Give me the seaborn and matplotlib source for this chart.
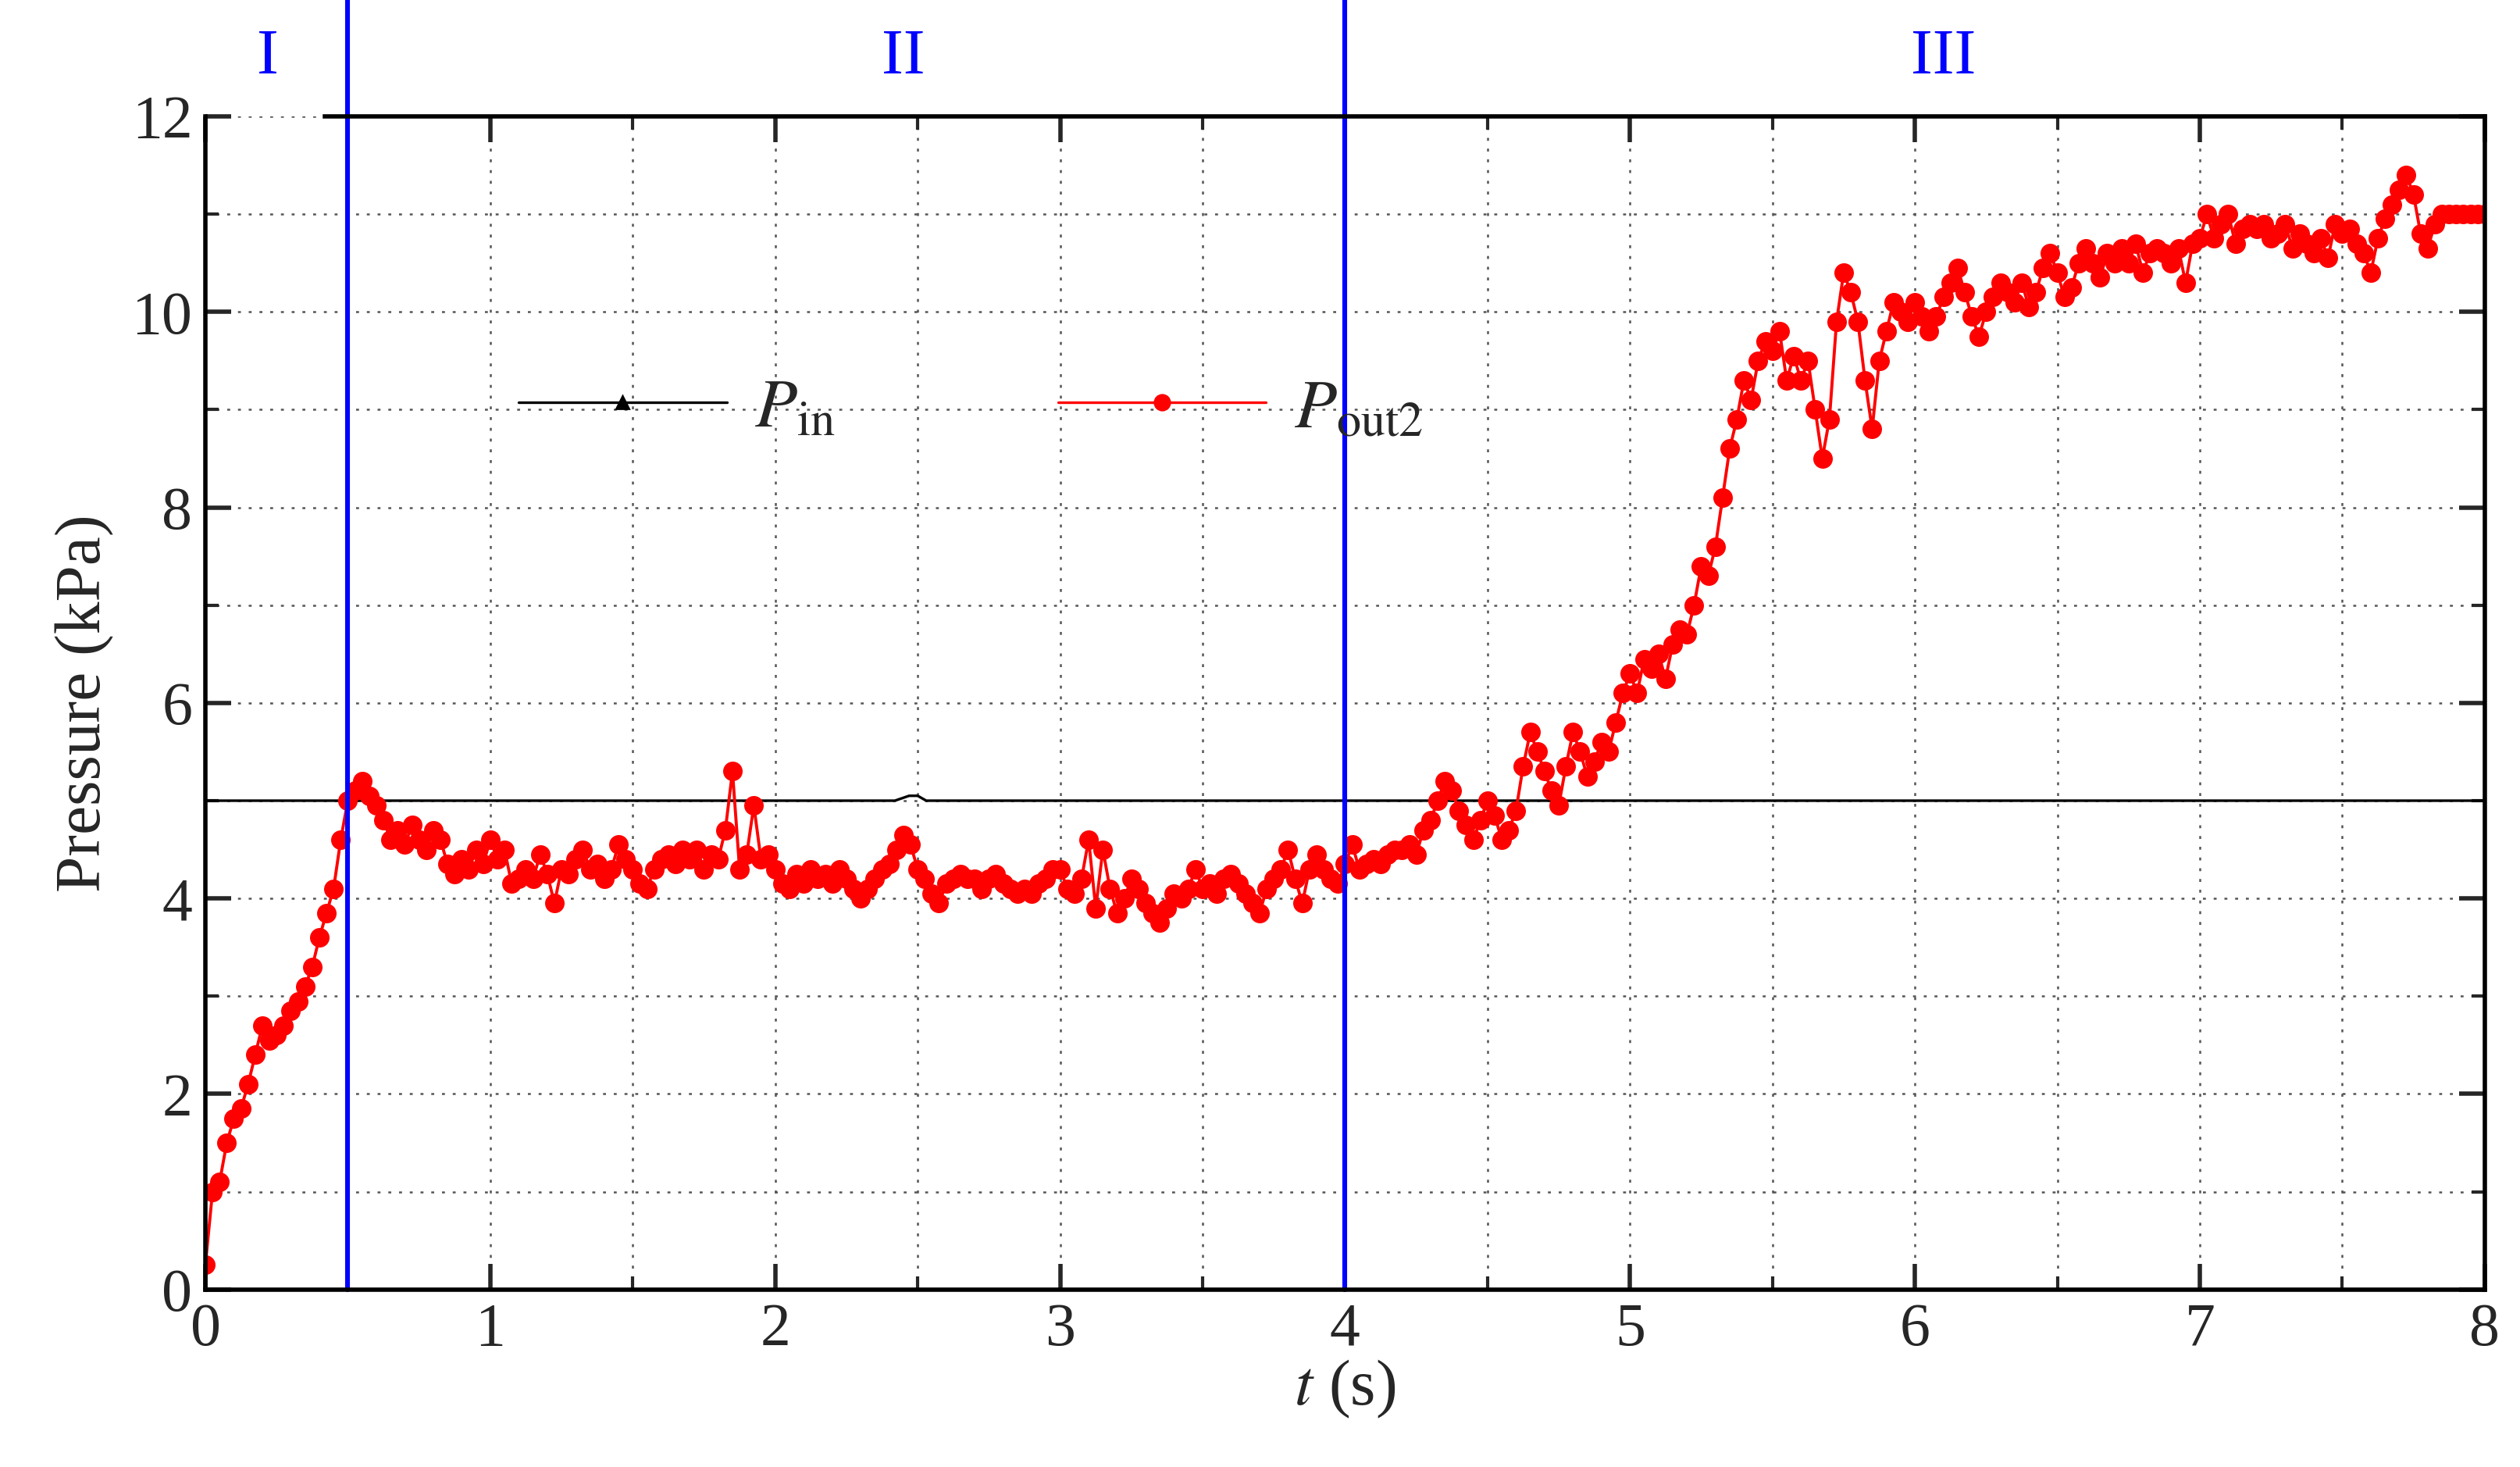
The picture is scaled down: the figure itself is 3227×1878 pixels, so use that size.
import numpy as np
import pandas as pd
import matplotlib
matplotlib.use('Agg')
import matplotlib.pyplot as plt
from matplotlib.lines import Line2D
import seaborn as sns

# --- data ---
p_out2 = [
    0.25, 1.0, 1.1, 1.5, 1.75, 1.85, 2.1, 2.4, 2.7, 2.55, 2.6, 2.7, 2.85, 2.95, 3.1, 3.3, 3.6, 3.85, 4.1, 4.6,
    5.0, 5.1, 5.2, 5.05, 4.95, 4.8, 4.6, 4.7, 4.55, 4.75, 4.6, 4.5, 4.7, 4.6, 4.35, 4.25, 4.4, 4.3, 4.5, 4.35,
    4.6, 4.4, 4.5, 4.15, 4.2, 4.3, 4.2, 4.45, 4.25, 3.95, 4.3, 4.25, 4.4, 4.5, 4.3, 4.35, 4.2, 4.3, 4.55, 4.4,
    4.3, 4.15, 4.1, 4.3, 4.4, 4.45, 4.35, 4.5, 4.4, 4.5, 4.3, 4.45, 4.4, 4.7, 5.3, 4.3, 4.45, 4.95, 4.4, 4.45,
    4.3, 4.15, 4.1, 4.25, 4.15, 4.3, 4.2, 4.25, 4.15, 4.3, 4.2, 4.1, 4.0, 4.1, 4.2, 4.3, 4.35, 4.5, 4.65, 4.55,
    4.3, 4.2, 4.05, 3.95, 4.15, 4.2, 4.25, 4.2, 4.2, 4.1, 4.2, 4.25, 4.15, 4.1, 4.05, 4.1, 4.05, 4.15, 4.2, 4.3,
    4.3, 4.1, 4.05, 4.2, 4.6, 3.9, 4.5, 4.1, 3.85, 4.0, 4.2, 4.1, 3.95, 3.85, 3.75, 3.9, 4.05, 4.0, 4.1, 4.3,
    4.1, 4.15, 4.05, 4.2, 4.25, 4.15, 4.05, 3.95, 3.85, 4.1, 4.2, 4.3, 4.5, 4.2, 3.95, 4.3, 4.45, 4.3, 4.2, 4.15,
    4.35, 4.55, 4.3, 4.35, 4.4, 4.35, 4.45, 4.5, 4.5, 4.55, 4.45, 4.7, 4.8, 5.0, 5.2, 5.1, 4.9, 4.75, 4.6, 4.8,
    5.0, 4.85, 4.6, 4.7, 4.9, 5.35, 5.7, 5.5, 5.3, 5.1, 4.95, 5.35, 5.7, 5.5, 5.25, 5.4, 5.6, 5.5, 5.8, 6.1,
    6.3, 6.1, 6.45, 6.35, 6.5, 6.25, 6.6, 6.75, 6.7, 7.0, 7.4, 7.3, 7.6, 8.1, 8.6, 8.9, 9.3, 9.1, 9.5, 9.7,
    9.6, 9.8, 9.3, 9.55, 9.3, 9.5, 9.0, 8.5, 8.9, 9.9, 10.4, 10.2, 9.9, 9.3, 8.8, 9.5, 9.8, 10.1, 10.0, 9.9,
    10.1, 9.95, 9.8, 9.95, 10.15, 10.3, 10.45, 10.2, 9.95, 9.75, 10.0, 10.15, 10.3, 10.2, 10.1, 10.3, 10.05, 10.2, 10.45, 10.6,
    10.4, 10.15, 10.25, 10.5, 10.65, 10.5, 10.35, 10.6, 10.5, 10.65, 10.5, 10.7, 10.4, 10.6, 10.65, 10.6, 10.5, 10.65, 10.3, 10.7,
    10.75, 11.0, 10.75, 10.9, 11.0, 10.7, 10.85, 10.9, 10.85, 10.9, 10.75, 10.8, 10.9, 10.65, 10.8, 10.7, 10.6, 10.75, 10.55, 10.9,
    10.8, 10.85, 10.7, 10.6, 10.4, 10.75, 10.95, 11.1, 11.25, 11.4, 11.2, 10.8, 10.65, 10.9, 11.0, 11.0, 11.0, 11.0, 11.0, 11.0,
    11.0,
]
t_out2 = np.round(np.arange(len(p_out2)) * 0.025, 3)

t_in = [0.0, 2.42, 2.47, 2.5, 2.53, 8.0]
p_in = [5.0, 5.0, 5.05, 5.05, 5.0, 5.0]

stage_bounds = [0.5, 4.0]
stage_labels = ['I', 'II', 'III']
stage_centers = [0.22, 2.45, 6.1]

df_out = pd.DataFrame({'t': t_out2, 'p': p_out2})
df_in = pd.DataFrame({'t': t_in, 'p': p_in})

sns.set_theme(style='white')
plt.rcParams['font.family'] = ['Liberation Serif', 'DejaVu Serif']
plt.rcParams['mathtext.fontset'] = 'stix'

fig = plt.figure(figsize=(16.135, 9.39), dpi=200)
ax = fig.add_axes([0.0815, 0.121, 0.9045, 0.7997])

sns.lineplot(data=df_in, x='t', y='p', ax=ax, color='black', linewidth=1.2)
sns.lineplot(data=df_out, x='t', y='p', ax=ax, color='red', linewidth=1.4,
             marker='o', markersize=9, markeredgewidth=0)

for b in stage_bounds:
    ax.axvline(b, color='blue', linewidth=2.2, clip_on=False, ymax=1.1)
for lab, c in zip(stage_labels, stage_centers):
    ax.text(c, 12.6, lab, color='blue', fontsize=30, ha='center', va='center')

ax.set_xlim(0, 8)
ax.set_ylim(0, 12)
ax.set_xticks(range(0, 9))
ax.set_yticks(range(0, 13, 2))
ax.set_xticks(np.arange(0.5, 8, 1), minor=True)
ax.set_yticks(range(1, 13, 2), minor=True)
ax.grid(True, which='both', color='#555555', linestyle=(0, (1.5, 4)), linewidth=0.9)
ax.tick_params(which='major', direction='in', length=12, width=2, labelsize=28,
               top=True, right=True, bottom=True, left=True, pad=6)
ax.tick_params(which='minor', direction='in', length=6, width=1.5,
               top=True, right=True, bottom=True, left=True)
for s in ax.spines.values():
    s.set_linewidth(2)
    s.set_color('black')
ax.spines['top'].set_bounds(0.42, 8)

ax.set_xlabel(r'$t$ (s)', fontsize=30, labelpad=0)
ax.set_ylabel('Pressure (kPa)', fontsize=30, labelpad=8)

handles = [
    Line2D([], [], color='black', linewidth=1.2, marker='^', markersize=6),
    Line2D([], [], color='red', linewidth=1.2, marker='o', markersize=7),
]
ax.legend(handles, [r'$P_{\rm in}$', r'$P_{\rm out2}$'], loc='upper left',
          bbox_to_anchor=(0.11, 0.83), ncol=2, frameon=False, fontsize=32,
          handlelength=3.0, handletextpad=0.4, columnspacing=3.2)

fig.savefig('out.png', dpi=200)
